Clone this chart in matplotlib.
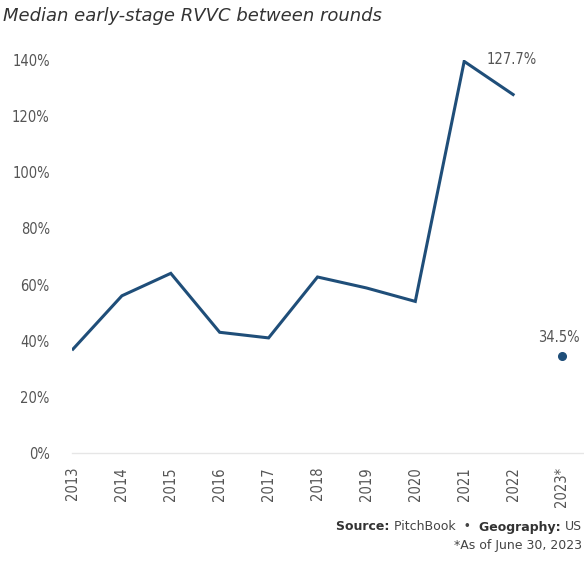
import matplotlib
matplotlib.use("Agg")
import matplotlib.pyplot as plt

years = ["2013", "2014", "2015", "2016", "2017", "2018", "2019", "2020", "2021", "2022", "2023*"]
rvvc = [37.0, 56.0, 64.0, 43.0, 41.0, 62.7, 58.8, 54.0, 139.5, 127.7]
rvvc_2023 = 34.5
yticks = [0, 20, 40, 60, 80, 100, 120, 140]

blue = "#1f4e79"
grey = "#555555"
plt.rcParams['font.family'] = ['DejaVu Sans']
plt.rcParams['font.stretch'] = 'condensed'

fig = plt.figure(figsize=(5.84, 5.75), dpi=100)
ax = fig.add_axes([72 / 584, 122 / 575, 512 / 584, 393 / 575])

x = list(range(len(years)))
ax.plot(x[:len(rvvc)], rvvc, color=blue, lw=2.2, solid_joinstyle="miter")
ax.plot(x[-1], rvvc_2023, "o", color=blue, ms=5.5)

ax.annotate("127.7%", (x[9], rvvc[9]), xytext=(-1, 20), textcoords="offset points",
            ha="center", va="bottom", fontsize=10.5, color=grey)
ax.annotate("34.5%", (x[10], rvvc_2023), xytext=(-2, 8), textcoords="offset points",
            ha="center", va="bottom", fontsize=10.5, color=grey)

ax.set_xlim(-0.02, 10.45)
ax.set_ylim(0, 140)
ax.set_xticks(x)
ax.set_xticklabels(years, rotation=90, fontsize=10.5, color=grey)
ax.set_yticks(yticks)
ax.set_yticklabels([f"{v}%" for v in yticks], fontsize=10.5, color=grey)
ax.tick_params(length=0)
ax.tick_params(axis="y", pad=16)
ax.tick_params(axis="x", pad=10)
for s in ["top", "right", "left"]:
    ax.spines[s].set_visible(False)
ax.spines["bottom"].set_color("#e6e6e6")
ax.spines["bottom"].set_linewidth(1.0)

fig.text(0.005, 1 - 16 / 575, "Median early-stage RVVC between rounds", fontsize=13,
         style="italic", color="#333333", va="center", stretch="normal")

# source line, chained right to left
t1 = fig.text(0.997, 1 - 527 / 575, "US", fontsize=9, color="#444444", ha="right",
              va="center", stretch="normal")
t2 = ax.annotate("Geography: ", (0, 0), xycoords=t1, ha="right", va="bottom",
                 fontsize=9, weight="bold", color="#333333", annotation_clip=False,
                 stretch="normal")
t3 = ax.annotate("PitchBook  \u2022  ", (0, 0), xycoords=t2, ha="right", va="bottom",
                 fontsize=9, color="#444444", annotation_clip=False, stretch="normal")
ax.annotate("Source: ", (0, 0), xycoords=t3, ha="right", va="bottom",
            fontsize=9, weight="bold", color="#333333", annotation_clip=False,
            stretch="normal")
fig.text(0.997, 1 - 545 / 575, "*As of June 30, 2023", fontsize=9, color="#444444",
         ha="right", va="center", stretch="normal")

fig.savefig("out.png", dpi=100)
